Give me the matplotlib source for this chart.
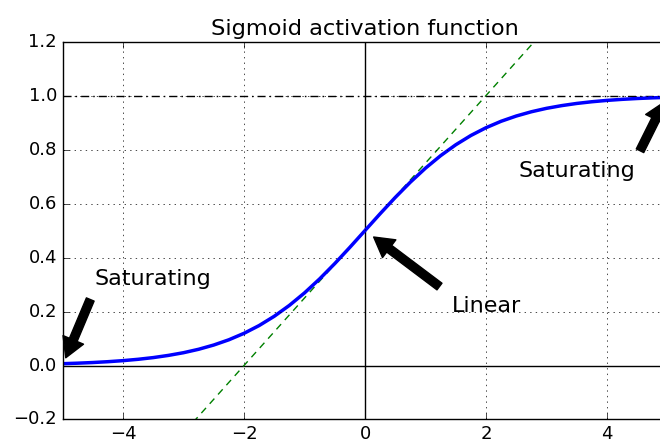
import numpy as np
import matplotlib
matplotlib.use("Agg")
import matplotlib.pyplot as plt

# sigmoid curve, values
z = [-5.0, -4.75, -4.5, -4.25, -4.0, -3.75, -3.5, -3.25, -3.0, -2.75, -2.5,
     -2.25, -2.0, -1.75, -1.5, -1.25, -1.0, -0.75, -0.5, -0.25, 0.0,
     0.25, 0.5, 0.75, 1.0, 1.25, 1.5, 1.75, 2.0, 2.25, 2.5,
     2.75, 3.0, 3.25, 3.5, 3.75, 4.0, 4.25, 4.5, 4.75, 5.0]
sig = [0.0067, 0.0086, 0.0110, 0.0141, 0.0180, 0.0230, 0.0293, 0.0374, 0.0474, 0.0601, 0.0759,
       0.0953, 0.1192, 0.1480, 0.1824, 0.2227, 0.2689, 0.3208, 0.3775, 0.4378, 0.5000,
       0.5622, 0.6225, 0.6792, 0.7311, 0.7773, 0.8176, 0.8520, 0.8808, 0.9047, 0.9241,
       0.9399, 0.9526, 0.9626, 0.9707, 0.9770, 0.9820, 0.9859, 0.9890, 0.9914, 0.9933]

# tangent at 0
tan_x = [-5, 5]
tan_y = [-0.75, 1.75]

plt.style.use("classic")
fig = plt.figure(figsize=(6.6, 4.4), dpi=100, facecolor="white")
ax = fig.add_axes([0.0947, 0.0466, 0.9167, 0.859])

ax.plot([-5, 5], [0, 0], "k-")
ax.plot([-5, 5], [1, 1], "k-.", dashes=(5.8, 2.9, 1.1, 2.9))
ax.plot([0, 0], [-0.2, 1.2], "k-")
ax.plot(tan_x, tan_y, "g--", dashes=(5, 4))
ax.plot(z, sig, "b-", linewidth=2.5)

props = dict(facecolor="black", shrink=0.1, width=6, headwidth=16, headlength=14)
ax.annotate("Saturating", xytext=(3.5, 0.7), xy=(5, 1), arrowprops=props, fontsize=16, ha="center")
ax.annotate("Saturating", xytext=(-3.5, 0.3), xy=(-5, 0), arrowprops=props, fontsize=16, ha="center")
ax.annotate("Linear", xytext=(2, 0.2), xy=(0, 0.5), arrowprops=props, fontsize=16, ha="center")

ax.grid(True)
ax.set_title("Sigmoid activation function", fontsize=16.2)
ax.axis([-5, 5, -0.2, 1.2])
ax.tick_params(labelsize=13)

fig.savefig("out.png", dpi=100, facecolor="white")
